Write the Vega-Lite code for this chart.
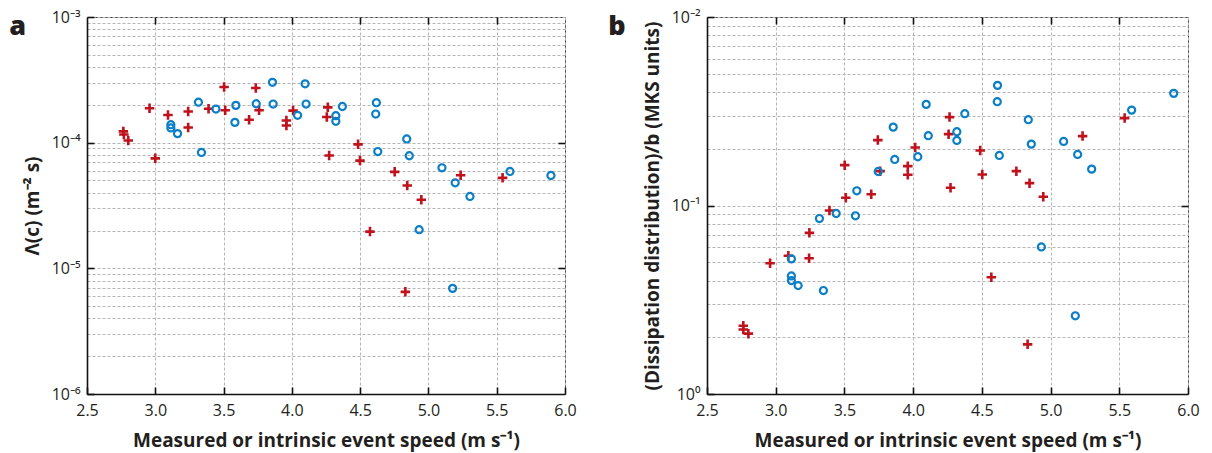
{
  "$schema": "https://vega.github.io/schema/vega-lite/v6.json",
  "padding": {"left": 8, "top": 8, "right": 5, "bottom": 5},
  "spacing": 30,
  "config": {
    "font": "Open Sans",
    "view": {"stroke": "#444444", "strokeWidth": 1},
    "axis": {
      "domainColor": "#111111", "domainWidth": 1.6,
      "tickColor": "#111111", "tickWidth": 1.6, "tickSize": -7,
      "gridColor": "#b5b5b5", "gridDash": [3, 2], "gridWidth": 1,
      "labelFont": "Open Sans", "labelFontSize": 16, "labelColor": "#231f20",
      "labelPadding": 14, "labelFlush": false, "labelOverlap": false,
      "titleFont": "Open Sans", "titleFontSize": 19, "titleFontWeight": "bold", "titleColor": "#231f20"
    },
    "title": {"font": "Open Sans", "fontSize": 27, "fontWeight": 800, "color": "#231f20"}
  },
  "datasets": {
    "a": [
      {"speed": 2.766, "lambda": 1.23e-4, "type": "measured"},
      {"speed": 2.77, "lambda": 1.16e-4, "type": "measured"},
      {"speed": 2.802, "lambda": 1.04e-4, "type": "measured"},
      {"speed": 2.958, "lambda": 1.88e-4, "type": "measured"},
      {"speed": 3.0, "lambda": 7.5e-5, "type": "measured"},
      {"speed": 3.093, "lambda": 1.66e-4, "type": "measured"},
      {"speed": 3.241, "lambda": 1.77e-4, "type": "measured"},
      {"speed": 3.241, "lambda": 1.32e-4, "type": "measured"},
      {"speed": 3.39, "lambda": 1.86e-4, "type": "measured"},
      {"speed": 3.504, "lambda": 2.77e-4, "type": "measured"},
      {"speed": 3.512, "lambda": 1.81e-4, "type": "measured"},
      {"speed": 3.687, "lambda": 1.52e-4, "type": "measured"},
      {"speed": 3.736, "lambda": 2.72e-4, "type": "measured"},
      {"speed": 3.76, "lambda": 1.81e-4, "type": "measured"},
      {"speed": 3.96, "lambda": 1.5e-4, "type": "measured"},
      {"speed": 3.96, "lambda": 1.37e-4, "type": "measured"},
      {"speed": 4.009, "lambda": 1.8e-4, "type": "measured"},
      {"speed": 4.263, "lambda": 1.91e-4, "type": "measured"},
      {"speed": 4.256, "lambda": 1.6e-4, "type": "measured"},
      {"speed": 4.273, "lambda": 7.9e-5, "type": "measured"},
      {"speed": 4.485, "lambda": 9.7e-5, "type": "measured"},
      {"speed": 4.499, "lambda": 7.2e-5, "type": "measured"},
      {"speed": 4.572, "lambda": 1.96e-5, "type": "measured"},
      {"speed": 4.753, "lambda": 5.86e-5, "type": "measured"},
      {"speed": 4.831, "lambda": 6.5e-6, "type": "measured"},
      {"speed": 4.845, "lambda": 4.56e-5, "type": "measured"},
      {"speed": 4.948, "lambda": 3.51e-5, "type": "measured"},
      {"speed": 5.236, "lambda": 5.51e-5, "type": "measured"},
      {"speed": 5.543, "lambda": 5.25e-5, "type": "measured"},
      {"speed": 3.114, "lambda": 1.39e-4, "type": "intrinsic"},
      {"speed": 3.114, "lambda": 1.31e-4, "type": "intrinsic"},
      {"speed": 3.163, "lambda": 1.18e-4, "type": "intrinsic"},
      {"speed": 3.316, "lambda": 2.1e-4, "type": "intrinsic"},
      {"speed": 3.338, "lambda": 8.36e-5, "type": "intrinsic"},
      {"speed": 3.444, "lambda": 1.85e-4, "type": "intrinsic"},
      {"speed": 3.583, "lambda": 1.45e-4, "type": "intrinsic"},
      {"speed": 3.59, "lambda": 1.98e-4, "type": "intrinsic"},
      {"speed": 3.739, "lambda": 2.04e-4, "type": "intrinsic"},
      {"speed": 3.858, "lambda": 3.02e-4, "type": "intrinsic"},
      {"speed": 3.863, "lambda": 2.03e-4, "type": "intrinsic"},
      {"speed": 4.042, "lambda": 1.65e-4, "type": "intrinsic"},
      {"speed": 4.097, "lambda": 2.94e-4, "type": "intrinsic"},
      {"speed": 4.104, "lambda": 2.03e-4, "type": "intrinsic"},
      {"speed": 4.322, "lambda": 1.64e-4, "type": "intrinsic"},
      {"speed": 4.322, "lambda": 1.48e-4, "type": "intrinsic"},
      {"speed": 4.37, "lambda": 1.94e-4, "type": "intrinsic"},
      {"speed": 4.614, "lambda": 1.69e-4, "type": "intrinsic"},
      {"speed": 4.619, "lambda": 2.08e-4, "type": "intrinsic"},
      {"speed": 4.629, "lambda": 8.5e-5, "type": "intrinsic"},
      {"speed": 4.841, "lambda": 1.07e-4, "type": "intrinsic"},
      {"speed": 4.86, "lambda": 7.87e-5, "type": "intrinsic"},
      {"speed": 4.932, "lambda": 2.03e-5, "type": "intrinsic"},
      {"speed": 5.099, "lambda": 6.31e-5, "type": "intrinsic"},
      {"speed": 5.177, "lambda": 6.93e-6, "type": "intrinsic"},
      {"speed": 5.196, "lambda": 4.79e-5, "type": "intrinsic"},
      {"speed": 5.304, "lambda": 3.73e-5, "type": "intrinsic"},
      {"speed": 5.597, "lambda": 5.9e-5, "type": "intrinsic"},
      {"speed": 5.897, "lambda": 5.48e-5, "type": "intrinsic"}
    ],
    "b": [
      {"speed": 2.764, "b_value": 2.3, "type": "measured"},
      {"speed": 2.764, "b_value": 2.2, "type": "measured"},
      {"speed": 2.801, "b_value": 2.09, "type": "measured"},
      {"speed": 2.959, "b_value": 4.94, "type": "measured"},
      {"speed": 3.092, "b_value": 5.41, "type": "measured"},
      {"speed": 3.243, "b_value": 5.25, "type": "measured"},
      {"speed": 3.245, "b_value": 7.16, "type": "measured"},
      {"speed": 3.391, "b_value": 9.41, "type": "measured"},
      {"speed": 3.502, "b_value": 16.37, "type": "measured"},
      {"speed": 3.51, "b_value": 10.99, "type": "measured"},
      {"speed": 3.695, "b_value": 11.48, "type": "measured"},
      {"speed": 3.743, "b_value": 22.23, "type": "measured"},
      {"speed": 3.76, "b_value": 15.21, "type": "measured"},
      {"speed": 3.961, "b_value": 16.17, "type": "measured"},
      {"speed": 3.961, "b_value": 14.55, "type": "measured"},
      {"speed": 4.015, "b_value": 20.32, "type": "measured"},
      {"speed": 4.258, "b_value": 23.9, "type": "measured"},
      {"speed": 4.265, "b_value": 29.44, "type": "measured"},
      {"speed": 4.272, "b_value": 12.42, "type": "measured"},
      {"speed": 4.488, "b_value": 19.59, "type": "measured"},
      {"speed": 4.503, "b_value": 14.61, "type": "measured"},
      {"speed": 4.569, "b_value": 4.16, "type": "measured"},
      {"speed": 4.751, "b_value": 15.21, "type": "measured"},
      {"speed": 4.833, "b_value": 1.834, "type": "measured"},
      {"speed": 4.847, "b_value": 13.14, "type": "measured"},
      {"speed": 4.947, "b_value": 11.12, "type": "measured"},
      {"speed": 5.233, "b_value": 23.34, "type": "measured"},
      {"speed": 5.539, "b_value": 29.09, "type": "measured"},
      {"speed": 3.114, "b_value": 5.21, "type": "intrinsic"},
      {"speed": 3.114, "b_value": 4.23, "type": "intrinsic"},
      {"speed": 3.114, "b_value": 4.0, "type": "intrinsic"},
      {"speed": 3.163, "b_value": 3.76, "type": "intrinsic"},
      {"speed": 3.318, "b_value": 8.53, "type": "intrinsic"},
      {"speed": 3.347, "b_value": 3.54, "type": "intrinsic"},
      {"speed": 3.44, "b_value": 9.07, "type": "intrinsic"},
      {"speed": 3.58, "b_value": 8.82, "type": "intrinsic"},
      {"speed": 3.59, "b_value": 11.97, "type": "intrinsic"},
      {"speed": 3.746, "b_value": 15.15, "type": "intrinsic"},
      {"speed": 3.855, "b_value": 26.05, "type": "intrinsic"},
      {"speed": 3.866, "b_value": 17.55, "type": "intrinsic"},
      {"speed": 4.034, "b_value": 18.14, "type": "intrinsic"},
      {"speed": 4.095, "b_value": 34.39, "type": "intrinsic"},
      {"speed": 4.11, "b_value": 23.45, "type": "intrinsic"},
      {"speed": 4.318, "b_value": 24.62, "type": "intrinsic"},
      {"speed": 4.318, "b_value": 22.14, "type": "intrinsic"},
      {"speed": 4.376, "b_value": 30.69, "type": "intrinsic"},
      {"speed": 4.612, "b_value": 35.54, "type": "intrinsic"},
      {"speed": 4.614, "b_value": 43.39, "type": "intrinsic"},
      {"speed": 4.627, "b_value": 18.43, "type": "intrinsic"},
      {"speed": 4.838, "b_value": 28.52, "type": "intrinsic"},
      {"speed": 4.86, "b_value": 21.17, "type": "intrinsic"},
      {"speed": 4.933, "b_value": 6.03, "type": "intrinsic"},
      {"speed": 5.095, "b_value": 21.87, "type": "intrinsic"},
      {"speed": 5.18, "b_value": 2.6, "type": "intrinsic"},
      {"speed": 5.197, "b_value": 18.66, "type": "intrinsic"},
      {"speed": 5.299, "b_value": 15.59, "type": "intrinsic"},
      {"speed": 5.59, "b_value": 32.07, "type": "intrinsic"},
      {"speed": 5.896, "b_value": 39.34, "type": "intrinsic"}
    ]
  },
  "hconcat": [
    {
      "width": 478, "height": 377,
      "title": {"text": "a", "anchor": "start", "frame": "bounds", "offset": 0, "dx": -14, "dy": 32},
      "data": {"name": "a"},
      "layer": [
        {
          "transform": [{"filter": "datum.type == 'measured'"}],
          "mark": {"type": "point", "shape": "M-1,0L1,0M0,-1L0,1", "size": 90, "strokeWidth": 2.6, "color": "#c0121d", "filled": false, "opacity": 1},
          "encoding": {
            "x": {"field": "speed", "type": "quantitative", "scale": {"domain": [2.5, 6], "nice": false, "zero": false},
              "axis": {"values": [2.5, 3, 3.5, 4, 4.5, 5, 5.5, 6], "format": ".1f", "grid": true, "labelPadding": 15, "titlePadding": 13,
                "title": "Measured or intrinsic event speed (m s⁻¹)"}},
            "y": {"field": "lambda", "type": "quantitative", "scale": {"type": "log", "domain": [1e-6, 1e-3], "nice": false},
              "axis": {"values": [1e-6, 2e-6, 3e-6, 4e-6, 5e-6, 6e-6, 7e-6, 8e-6, 9e-6, 1e-5, 2e-5, 3e-5, 4e-5, 5e-5, 6e-5, 7e-5, 8e-5, 9e-5, 1e-4, 2e-4, 3e-4, 4e-4, 5e-4, 6e-4, 7e-4, 8e-4, 9e-4, 1e-3],
                "grid": true, "titlePadding": 9,
                "labelExpr": "(abs(log(datum.value)/LN10 - round(log(datum.value)/LN10)) < 1e-6) ? '10' + ['⁰','⁻¹','⁻²','⁻³','⁻⁴','⁻⁵','⁻⁶'][-round(log(datum.value)/LN10)] : ''",
                "tickOpacity": {"condition": {"test": "abs(log(datum.value)/LN10 - round(log(datum.value)/LN10)) < 1e-6", "value": 1}, "value": 0},
                "title": "Λ(c) (m⁻² s)"}}
          }
        },
        {
          "transform": [{"filter": "datum.type == 'intrinsic'"}],
          "mark": {"type": "point", "shape": "circle", "size": 50, "strokeWidth": 2.2, "color": "#0a7fc8", "filled": false, "opacity": 1},
          "encoding": {
            "x": {"field": "speed", "type": "quantitative",
              "axis": {"orient": "top", "values": [3, 3.5, 4, 4.5, 5, 5.5], "labels": false, "grid": false, "domain": false, "title": null}},
            "y": {"field": "lambda", "type": "quantitative",
              "axis": {"orient": "right", "values": [1e-5, 1e-4], "labels": false, "grid": false, "domain": false, "title": null}}
          }
        }
      ],
      "resolve": {"axis": {"x": "independent", "y": "independent"}}
    },
    {
      "width": 481, "height": 377,
      "title": {"text": "b", "anchor": "start", "frame": "bounds", "offset": 0, "dx": -35, "dy": 32},
      "data": {"name": "b"},
      "layer": [
        {
          "transform": [{"filter": "datum.type == 'measured'"}],
          "mark": {"type": "point", "shape": "M-1,0L1,0M0,-1L0,1", "size": 90, "strokeWidth": 2.6, "color": "#c0121d", "filled": false, "opacity": 1},
          "encoding": {
            "x": {"field": "speed", "type": "quantitative", "scale": {"domain": [2.5, 6], "nice": false, "zero": false},
              "axis": {"values": [2.5, 3, 3.5, 4, 4.5, 5, 5.5, 6], "format": ".1f", "grid": true, "labelPadding": 15, "titlePadding": 13,
                "title": "Measured or intrinsic event speed (m s⁻¹)"}},
            "y": {"field": "b_value", "type": "quantitative", "scale": {"type": "log", "domain": [1, 100], "nice": false},
              "axis": {"values": [1, 2, 3, 4, 5, 6, 7, 8, 9, 10, 20, 30, 40, 50, 60, 70, 80, 90, 100],
                "grid": true, "titlePadding": 9,
                "labelExpr": "(abs(log(datum.value)/LN10 - round(log(datum.value)/LN10)) < 1e-6) ? '10' + ['⁰','⁻¹','⁻²'][round(log(datum.value)/LN10)] : ''",
                "tickOpacity": {"condition": {"test": "abs(log(datum.value)/LN10 - round(log(datum.value)/LN10)) < 1e-6", "value": 1}, "value": 0},
                "title": "(Dissipation distribution)/b (MKS units)"}}
          }
        },
        {
          "transform": [{"filter": "datum.type == 'intrinsic'"}],
          "mark": {"type": "point", "shape": "circle", "size": 50, "strokeWidth": 2.2, "color": "#0a7fc8", "filled": false, "opacity": 1},
          "encoding": {
            "x": {"field": "speed", "type": "quantitative",
              "axis": {"orient": "top", "values": [3, 3.5, 4, 4.5, 5, 5.5], "labels": false, "grid": false, "domain": false, "title": null}},
            "y": {"field": "b_value", "type": "quantitative",
              "axis": {"orient": "right", "values": [10], "labels": false, "grid": false, "domain": false, "title": null}}
          }
        }
      ],
      "resolve": {"axis": {"x": "independent", "y": "independent"}}
    }
  ]
}
